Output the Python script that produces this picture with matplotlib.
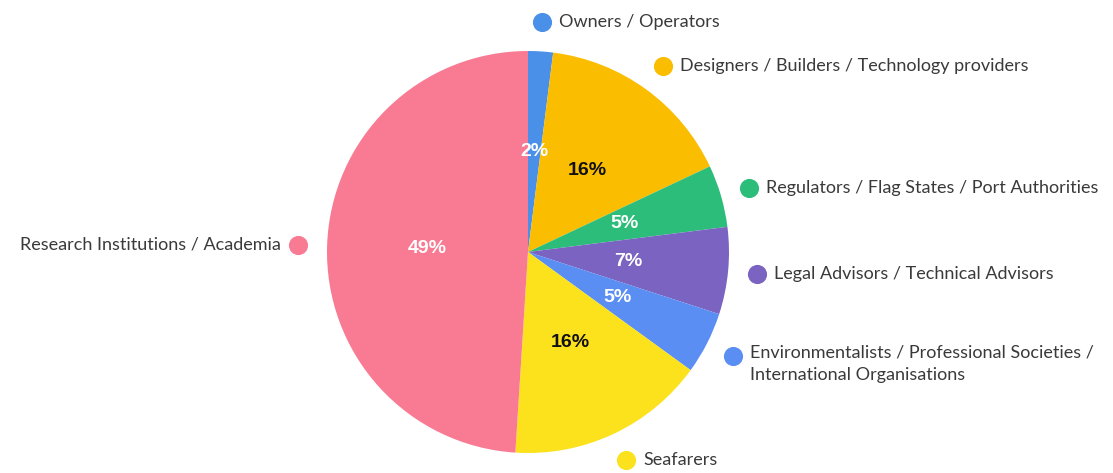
import numpy as np
import matplotlib
matplotlib.use("Agg")
import matplotlib.pyplot as plt

# stakeholder groups, clockwise from the top
groups = [
    "Owners / Operators",
    "Designers / Builders / Technology providers",
    "Regulators / Flag States / Port Authorities",
    "Legal Advisors / Technical Advisors",
    "Environmentalists / Professional Societies /\nInternational Organisations",
    "Seafarers",
    "Research Institutions / Academia",
]
shares = [2, 16, 5, 7, 5, 16, 49]
colors = ["#4a8fe8", "#fbbd00", "#2dbd7b", "#7b63c2", "#5b8ef2", "#fbe21c", "#f87b93"]
pct_colors = ["white", "#111111", "white", "white", "white", "#111111", "white"]

W, H = 1113, 473
cx, cy = 528, 252      # pie centre in pixels from the top-left
R = 201                # pie radius in pixels

fig = plt.figure(figsize=(W / 100, H / 100), dpi=100)
ax = fig.add_axes([0, 0, 1, 1])

wedges, _, pct_texts = ax.pie(
    shares, colors=colors, radius=R, startangle=90, counterclock=False,
    autopct="%d%%", pctdistance=0.5,
    wedgeprops=dict(linewidth=0),
    textprops=dict(fontsize=14, fontweight="bold", family="Liberation Sans"),
)
for t, c in zip(pct_texts, pct_colors):
    t.set_color(c)

# axis units equal pixels, pie centred at (0, 0)
ax.set_xlim(-cx, W - cx)
ax.set_ylim(-(H - cy), cy)
ax.set_aspect("equal")
ax.axis("off")

# dot + name for each group, set out along the middle of its wedge
dot_r = 1.145 * R
for w, name, col in zip(wedges, groups, colors):
    ang = np.deg2rad((w.theta1 + w.theta2) / 2)
    x, y = dot_r * np.cos(ang), dot_r * np.sin(ang)
    ax.scatter([x], [y], s=190, color=col, linewidths=0, zorder=3, clip_on=False)
    right = np.cos(ang) >= 0
    tx = x + 17 if right else x - 17
    if "\n" in name:
        ax.text(tx, y + 12, name, ha="left" if right else "right", va="top",
                fontsize=13, color="#3a3a3a", family="Lato", linespacing=1.5)
    else:
        ax.text(tx, y, name, ha="left" if right else "right", va="center",
                fontsize=13, color="#3a3a3a", family="Lato")

fig.savefig("out.png", dpi=100)
